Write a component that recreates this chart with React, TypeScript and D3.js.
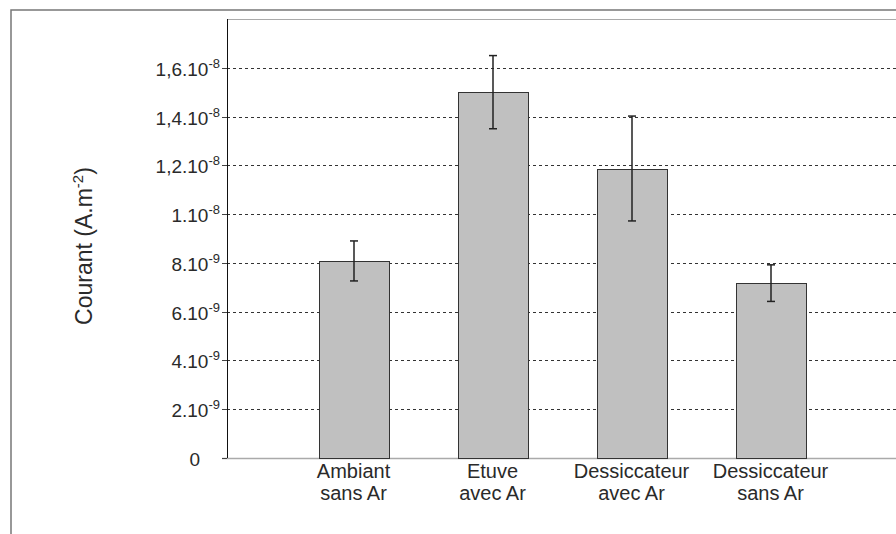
import { useEffect, useRef } from "react";
import * as d3 from "d3";

const categories = [
  ["Ambiant", "sans Ar"],
  ["Etuve", "avec Ar"],
  ["Dessiccateur", "avec Ar"],
  ["Dessiccateur", "sans Ar"],
];
const means = [8.08e-9, 15.0e-9, 11.87e-9, 7.17e-9];
const errors = [0.82e-9, 1.5e-9, 2.15e-9, 0.75e-9];
const tickValues = [0, 2e-9, 4e-9, 6e-9, 8e-9, 1e-8, 1.2e-8, 1.4e-8, 1.6e-8];
const tickMantissa = ["0", "2.10", "4.10", "6.10", "8.10", "1.10", "1,2.10", "1,4.10", "1,6.10"];
const tickExponent = ["", "-9", "-9", "-9", "-9", "-8", "-8", "-8", "-8"];

export default function App() {
  const ref = useRef<SVGSVGElement>(null);

  useEffect(() => {
    if (!ref.current) return;
    const width = 896;
    const height = 534;
    const font = "'Liberation Sans', Arial, sans-serif";

    const svg = d3.select(ref.current);
    svg.selectAll("*").remove();

    const axisX = 227;
    const plotRight = 900;

    const y = d3.scaleLinear().domain([0, 1.8e-8]).range([458, 19]);
    const x = d3
      .scaleBand()
      .domain(categories.map((c) => c.join(" ")))
      .range([284, 840])
      .paddingInner(0.5)
      .paddingOuter(0.25);

    // outer frame
    svg
      .append("rect")
      .attr("x", 11)
      .attr("y", 10)
      .attr("width", 1000)
      .attr("height", 1000)
      .attr("fill", "#fff")
      .attr("stroke", "#777")
      .attr("stroke-width", 1.5);

    // plot top border
    svg
      .append("line")
      .attr("x1", axisX)
      .attr("x2", plotRight)
      .attr("y1", 19.5)
      .attr("y2", 19.5)
      .attr("stroke", "#aaa");

    // grid lines
    svg
      .append("g")
      .selectAll("line")
      .data(tickValues.filter((v) => v > 0))
      .enter()
      .append("line")
      .attr("x1", axisX)
      .attr("x2", plotRight)
      .attr("y1", (d) => Math.round(y(d)) + 0.5)
      .attr("y2", (d) => Math.round(y(d)) + 0.5)
      .attr("stroke", "#333")
      .attr("stroke-dasharray", "3,3");

    // x axis
    svg
      .append("line")
      .attr("x1", 222)
      .attr("x2", plotRight)
      .attr("y1", y(0) + 0.5)
      .attr("y2", y(0) + 0.5)
      .attr("stroke", "#aaa")
      .attr("stroke-width", 1.5);

    // y axis
    svg
      .append("line")
      .attr("x1", axisX + 0.5)
      .attr("x2", axisX + 0.5)
      .attr("y1", 19)
      .attr("y2", y(0))
      .attr("stroke", "#111");

    const ticks = svg
      .append("g")
      .selectAll("g")
      .data(tickValues)
      .enter()
      .append("g")
      .attr("transform", (d) => `translate(0,${Math.round(y(d)) + 0.5})`);

    ticks
      .append("line")
      .attr("x1", 222)
      .attr("x2", axisX)
      .attr("stroke", "#444");

    const tickText = ticks
      .append("text")
      .attr("x", 220)
      .attr("y", 7)
      .attr("text-anchor", "end")
      .attr("font-family", font)
      .attr("font-size", 19)
      .attr("fill", "#2a2a2a");
    tickText.append("tspan").text((_, i) => tickMantissa[i]);
    tickText
      .append("tspan")
      .attr("dy", -8)
      .attr("font-size", 13)
      .text((_, i) => tickExponent[i]);
    tickText.filter((d) => d === 0).attr("x", 200);

    // bars
    svg
      .append("g")
      .selectAll("rect")
      .data(means)
      .enter()
      .append("rect")
      .attr("x", (_, i) => Math.round(x(categories[i].join(" "))!) + 0.5)
      .attr("y", (d) => Math.round(y(d)) + 0.5)
      .attr("width", Math.round(x.bandwidth()))
      .attr("height", (d) => Math.round(y(0) - y(d)))
      .attr("fill", "#c0c0c0")
      .attr("stroke", "#333");

    // error bars
    const err = svg
      .append("g")
      .selectAll("g")
      .data(means)
      .enter()
      .append("g")
      .attr("stroke", "#222")
      .attr("stroke-width", 1.5);
    const cx = (i: number) => Math.round(x(categories[i].join(" "))! + x.bandwidth() / 2);
    err
      .append("line")
      .attr("x1", (_, i) => cx(i))
      .attr("x2", (_, i) => cx(i))
      .attr("y1", (d, i) => y(d + errors[i]))
      .attr("y2", (d, i) => y(d - errors[i]));
    err
      .append("line")
      .attr("x1", (_, i) => cx(i) - 4)
      .attr("x2", (_, i) => cx(i) + 4)
      .attr("y1", (d, i) => y(d + errors[i]))
      .attr("y2", (d, i) => y(d + errors[i]));
    err
      .append("line")
      .attr("x1", (_, i) => cx(i) - 4)
      .attr("x2", (_, i) => cx(i) + 4)
      .attr("y1", (d, i) => y(d - errors[i]))
      .attr("y2", (d, i) => y(d - errors[i]));

    // x labels
    const labels = svg
      .append("g")
      .selectAll("text")
      .data(categories)
      .enter()
      .append("text")
      .attr("text-anchor", "middle")
      .attr("font-family", font)
      .attr("font-size", 20)
      .attr("fill", "#2a2a2a");
    labels
      .append("tspan")
      .attr("x", (d) => x(d.join(" "))! + x.bandwidth() / 2)
      .attr("y", 478)
      .text((d) => d[0]);
    labels
      .append("tspan")
      .attr("x", (d) => x(d.join(" "))! + x.bandwidth() / 2)
      .attr("y", 500)
      .text((d) => d[1]);

    // y title
    const title = svg
      .append("text")
      .attr("transform", "translate(92,246) rotate(-90)")
      .attr("text-anchor", "middle")
      .attr("font-family", font)
      .attr("font-size", 23)
      .attr("fill", "#2a2a2a");
    title.append("tspan").text("Courant (A.m");
    title.append("tspan").attr("dy", -9).attr("font-size", 15).text("-2");
    title.append("tspan").attr("dy", 9).text(")");

    svg.attr("width", width).attr("height", height);
  }, []);

  return (
    <svg
      ref={ref}
      width={896}
      height={534}
      style={{ position: "absolute", left: 0, top: 0, background: "#fff" }}
    />
  );
}
